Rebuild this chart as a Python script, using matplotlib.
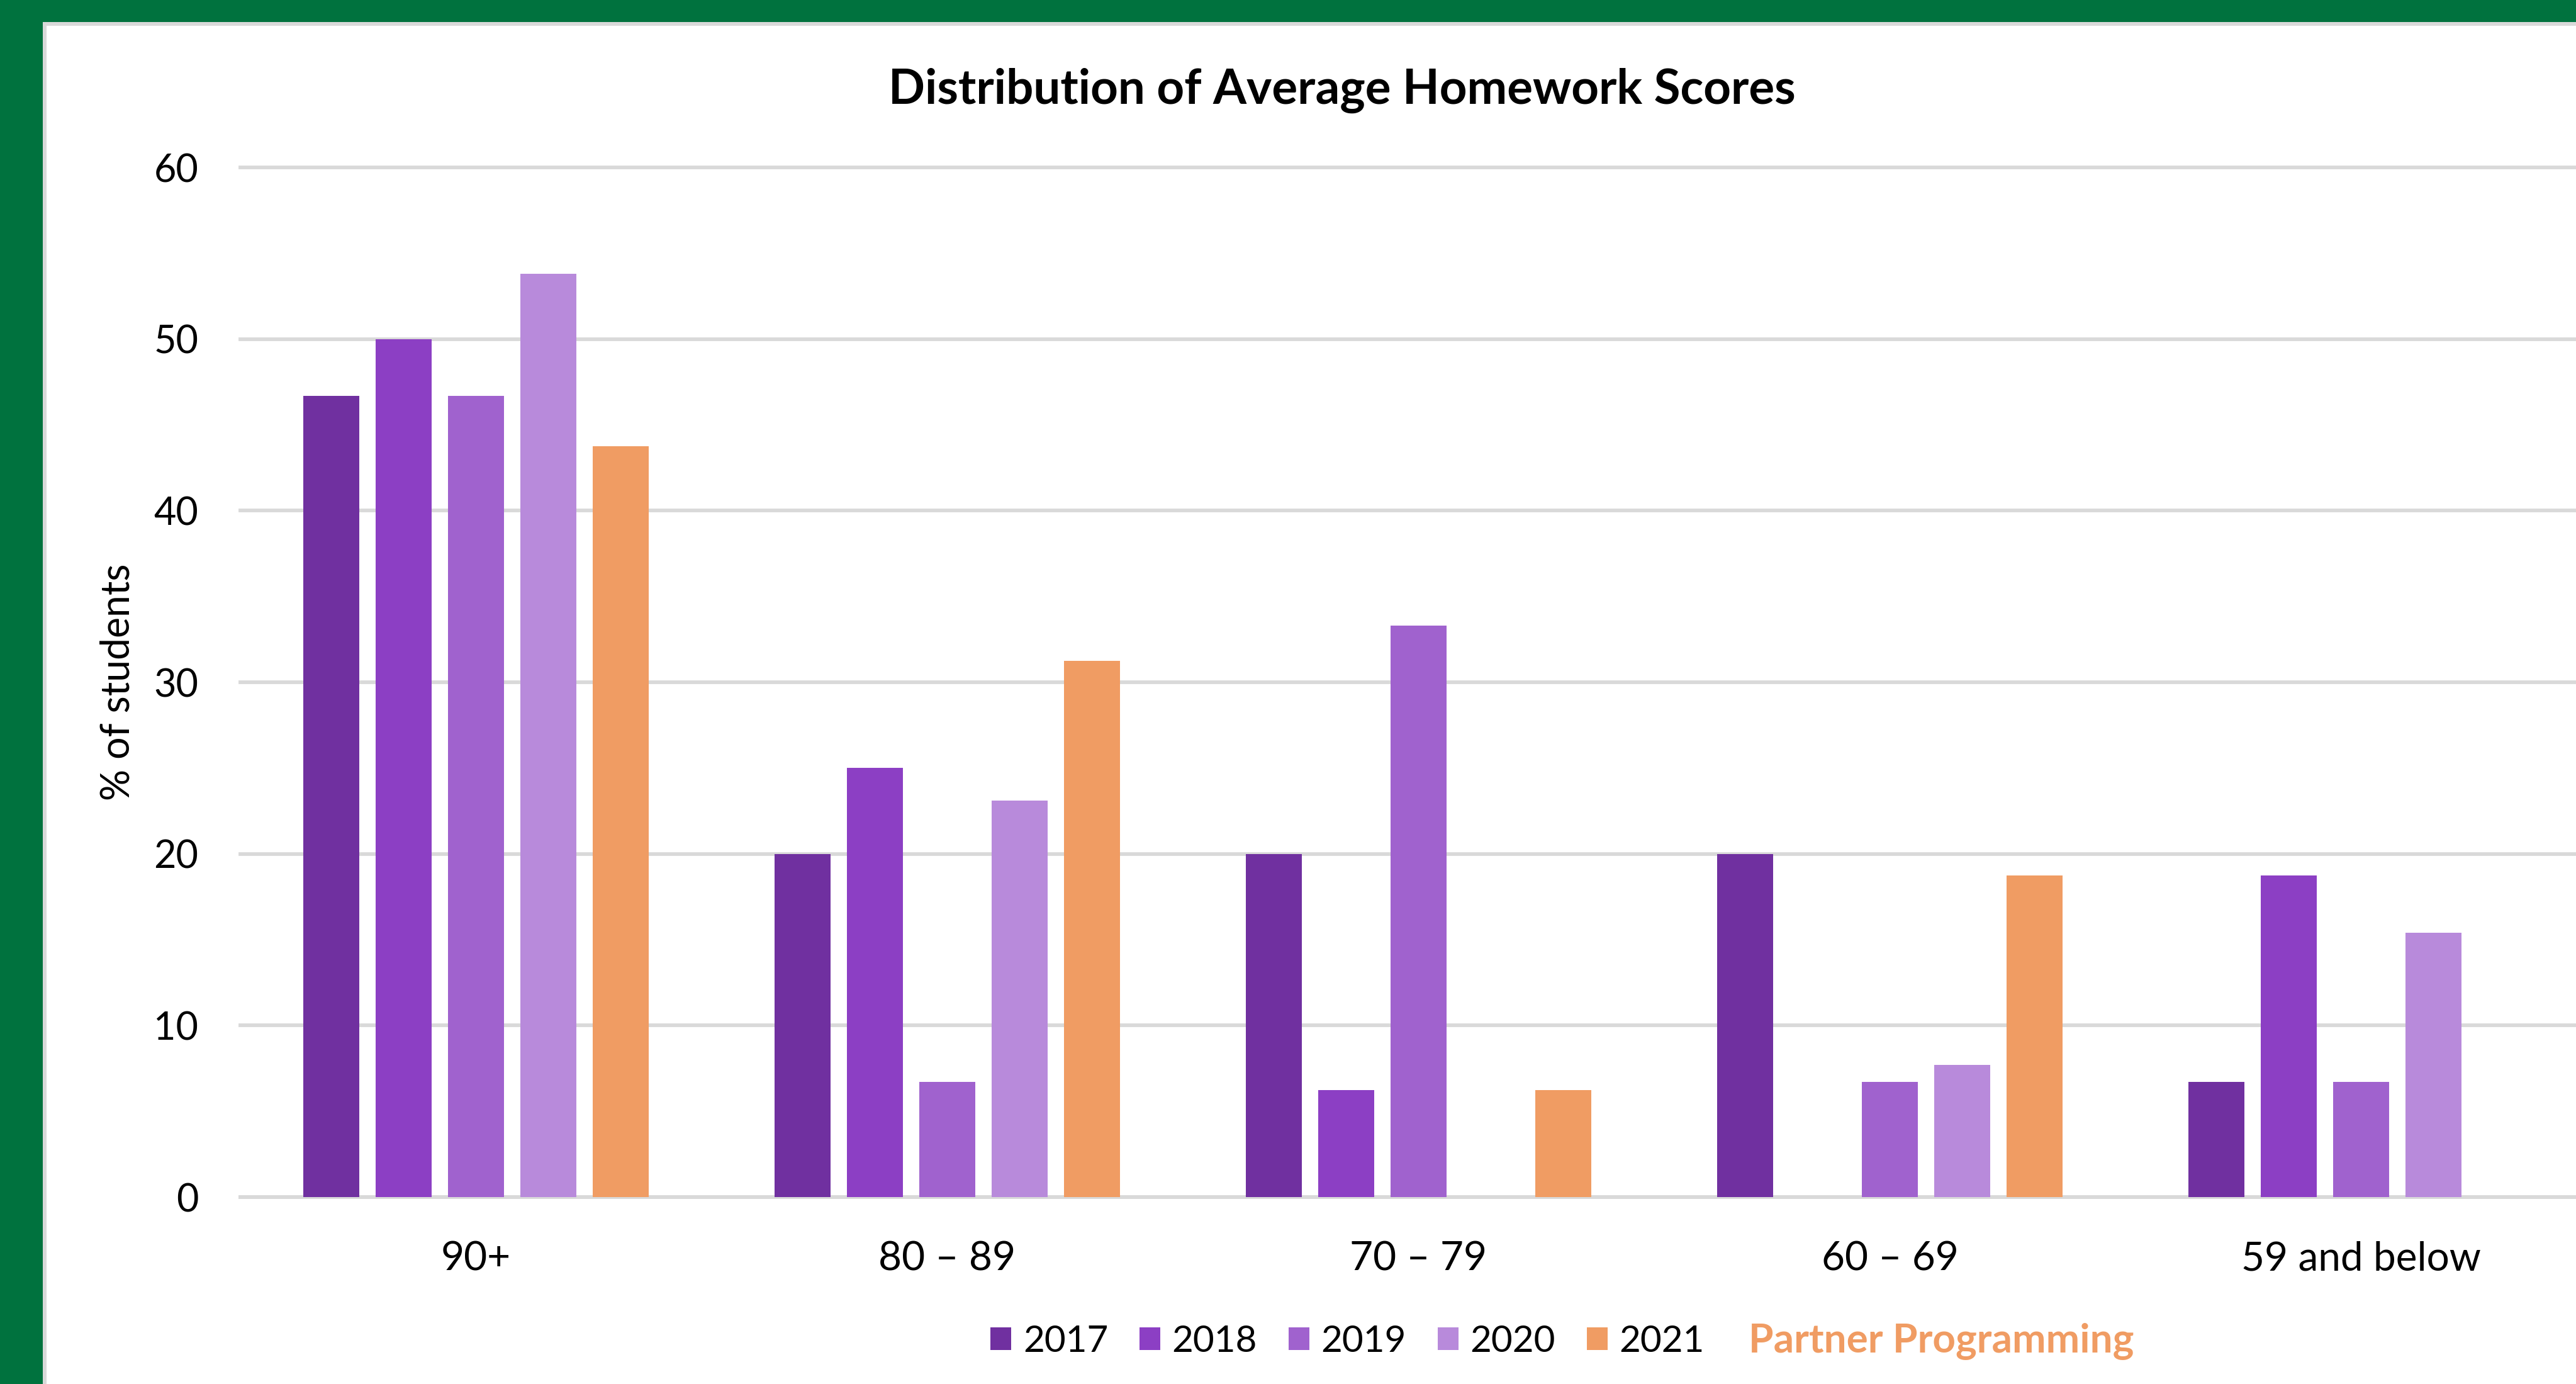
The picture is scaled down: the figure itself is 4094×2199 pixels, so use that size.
import numpy as np
import matplotlib
matplotlib.use("Agg")
from matplotlib import pyplot as plt
from matplotlib.patches import Rectangle

# 数据
categories = ["90+", "80 – 89", "70 – 79", "60 – 69", "59 and below"]
years = ["2017", "2018", "2019", "2020", "2021"]
pct_2017 = [46.7, 20.0, 20.0, 20.0, 6.7]
pct_2018 = [50.0, 25.0, 6.25, 0.0, 18.75]
pct_2019 = [46.7, 6.7, 33.3, 6.7, 6.7]
pct_2020 = [53.8, 23.1, 0.0, 7.7, 15.4]
pct_2021 = [43.75, 31.25, 6.25, 18.75, 0.0]
series = [pct_2017, pct_2018, pct_2019, pct_2020, pct_2021]
colors = ["#7030A0", "#8C3FC4", "#A062CE", "#B88ADB", "#F09C63"]

plt.rcParams['font.family'] = ['Lato', 'DejaVu Sans']

W, H = 4094, 2199
fig = plt.figure(figsize=(W / 100, H / 100), dpi=100, facecolor="#00723E")

# 白色图表区域和灰色边框
fig.add_artist(Rectangle((68 / W, -0.1), 1.2, 1.1 - 35 / H, transform=fig.transFigure,
                         facecolor="#D9D9D9", edgecolor="none", zorder=-10))
fig.add_artist(Rectangle((74 / W, -0.1), 1.2, 1.1 - 41 / H, transform=fig.transFigure,
                         facecolor="white", edgecolor="none", zorder=-9))

ax = fig.add_axes([382 / W, (H - 1902) / H, 3745 / W, (1902 - 266) / H])
ax.set_facecolor("none")

x = np.arange(len(categories))
width = 0.12
step = 0.1535
for i, (vals, c, y) in enumerate(zip(series, colors, years)):
    ax.bar(x + (i - 2) * step, vals, width, color=c, label=y, zorder=3)

ax.set_xlim(-0.5, 4.5)
ax.set_ylim(0, 60)
ax.set_yticks(range(0, 61, 10))
ax.set_xticks(x)
ax.set_xticklabels(categories)
ax.tick_params(axis="both", length=0, labelsize=44)
ax.tick_params(axis="x", labelsize=46)
ax.tick_params(axis="y", pad=48)
ax.tick_params(axis="x", pad=50)
ax.grid(axis="y", color="#D9D9D9", linewidth=4.2, zorder=0)
for gl in ax.get_ygridlines():
    gl.set_clip_on(False)
ax.set_axisbelow(True)
for s in ["top", "right", "left"]:
    ax.spines[s].set_visible(False)
ax.spines["bottom"].set_color("#D9D9D9")
ax.spines["bottom"].set_linewidth(4.2)

fig.text(2133 / W, 1 - 144 / H, "Distribution of Average Homework Scores",
         ha="center", va="center", fontsize=55, fontweight="bold")
fig.text(188 / W, 1 - 1084 / H, "% of students", rotation=90,
         ha="center", va="center", fontsize=45)

fig.legend(loc="center left", bbox_to_anchor=(1574 / W, 1 - 2131 / H), ncol=5,
           frameon=False, fontsize=42, handlelength=0.57, handleheight=0.57,
           handletextpad=0.32, columnspacing=0.85, borderpad=0, borderaxespad=0)
fig.text(2779 / W, 1 - 2131 / H, "Partner Programming", ha="left", va="center",
         fontsize=46, fontweight="bold", color="#F09C63")

fig.savefig("out.png", dpi=100, facecolor=fig.get_facecolor())
